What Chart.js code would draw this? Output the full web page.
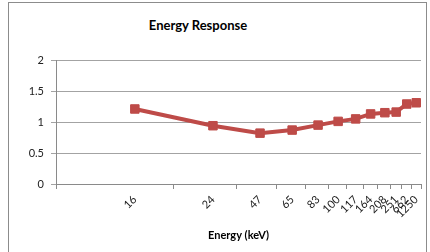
<!DOCTYPE html>
<html>
<head>
<meta charset="utf-8">
<script src="https://cdn.jsdelivr.net/npm/chart.js@4.4.0/dist/chart.umd.min.js"></script>
<style>
  html, body { margin: 0; padding: 0; background: #fff; overflow: hidden; }
  #wrap { position: relative; width: 430px; height: 252px; }
  #frame {
    position: absolute; left: 8px; top: 2px; width: 419px; height: 300px;
    border: 1px solid #8c8c8c; box-sizing: border-box;
  }
  #title {
    position: absolute; left: 98px; top: 17px; width: 200px; text-align: center;
    font: bold 13px Lato, 'Open Sans', sans-serif; line-height: 16px; color: #000;
  }
  canvas { position: absolute; left: 0; top: 0; }
</style>
</head>
<body>
<div id="wrap">
  <div id="frame"></div>
  <div id="title">Energy Response</div>
  <canvas id="chart" width="430" height="252"></canvas>
</div>
<script>
/* Energy response vs photon energy */
const energies = ['16', '24', '47', '65', '83', '100', '117', '164', '208', '251', '662', '1250'];
const response = [1.21, 0.94, 0.82, 0.87, 0.95, 1.01, 1.05, 1.13, 1.15, 1.16, 1.29, 1.31];
// where each category sits along the (unevenly spaced) x axis, 0..100
const axisPos = [21.6, 43.0, 55.9, 64.7, 71.8, 77.3, 82.1, 86.2, 90.1, 93.2, 96.1, 98.7];
const yTicks = [0, 0.5, 1, 1.5, 2];

// tick marks fall between categories
const bounds = [0];
for (let i = 1; i < axisPos.length; i++) bounds.push((axisPos[i - 1] + axisPos[i]) / 2);
bounds.push(100);

const AXIS = '#8a8a8a';
const GRID = '#a3a3a3';
const LINE = '#BE4B48';
const font = { family: "Lato, 'Open Sans', sans-serif", size: 11 };

new Chart(document.getElementById('chart').getContext('2d'), {
  type: 'line',
  data: {
    datasets: [{
      data: axisPos.map((x, i) => ({ x, y: response[i] })),
      borderColor: LINE,
      backgroundColor: LINE,
      borderWidth: 4,
      pointStyle: 'rect',
      pointRadius: 6,
      pointBorderWidth: 1,
      pointBackgroundColor: LINE,
      pointBorderColor: LINE,
      tension: 0,
      fill: false,
    }],
  },
  options: {
    responsive: false,
    animation: false,
    devicePixelRatio: 1,
    layout: { padding: { top: 60, right: 9, left: 0, bottom: 0 } },
    plugins: { legend: { display: false }, tooltip: { enabled: false }, title: { display: false } },
    scales: {
      x: {
        type: 'linear', position: 'bottom', min: 0, max: 100, weight: 0,
        afterBuildTicks: axis => { axis.ticks = bounds.map(v => ({ value: v })); },
        afterFit: axis => { axis.height = 5; },
        ticks: { display: false },
        grid: { display: true, drawOnChartArea: false, drawTicks: true, tickLength: 5, color: AXIS },
        border: { display: true, color: AXIS },
      },
      x2: {
        type: 'linear', position: 'bottom', min: 0, max: 100, weight: 1,
        afterBuildTicks: axis => { axis.ticks = axisPos.map(v => ({ value: v })); },
        afterFit: axis => { axis.height = 63; },
        ticks: {
          autoSkip: false, maxRotation: 45, minRotation: 45, padding: 4,
          color: '#222', font,
          callback: v => energies[axisPos.indexOf(v)] ?? '',
        },
        grid: { display: false, drawTicks: false },
        border: { display: false },
        title: {
          display: true, text: 'Energy (keV)', color: '#000',
          font: { family: font.family, size: 11, weight: 'bold' },
          padding: { top: 0, bottom: 10 },
        },
      },
      y: {
        min: 0, max: 2,
        afterBuildTicks: axis => { axis.ticks = yTicks.map(v => ({ value: v })); },
        afterFit: axis => { axis.width = 56; },
        ticks: { color: '#222', font, padding: 7, callback: v => String(v) },
        grid: { color: GRID, drawTicks: true, tickLength: 5 },
        border: { display: true, color: AXIS },
      },
    },
  },
});
</script>
</body>
</html>
